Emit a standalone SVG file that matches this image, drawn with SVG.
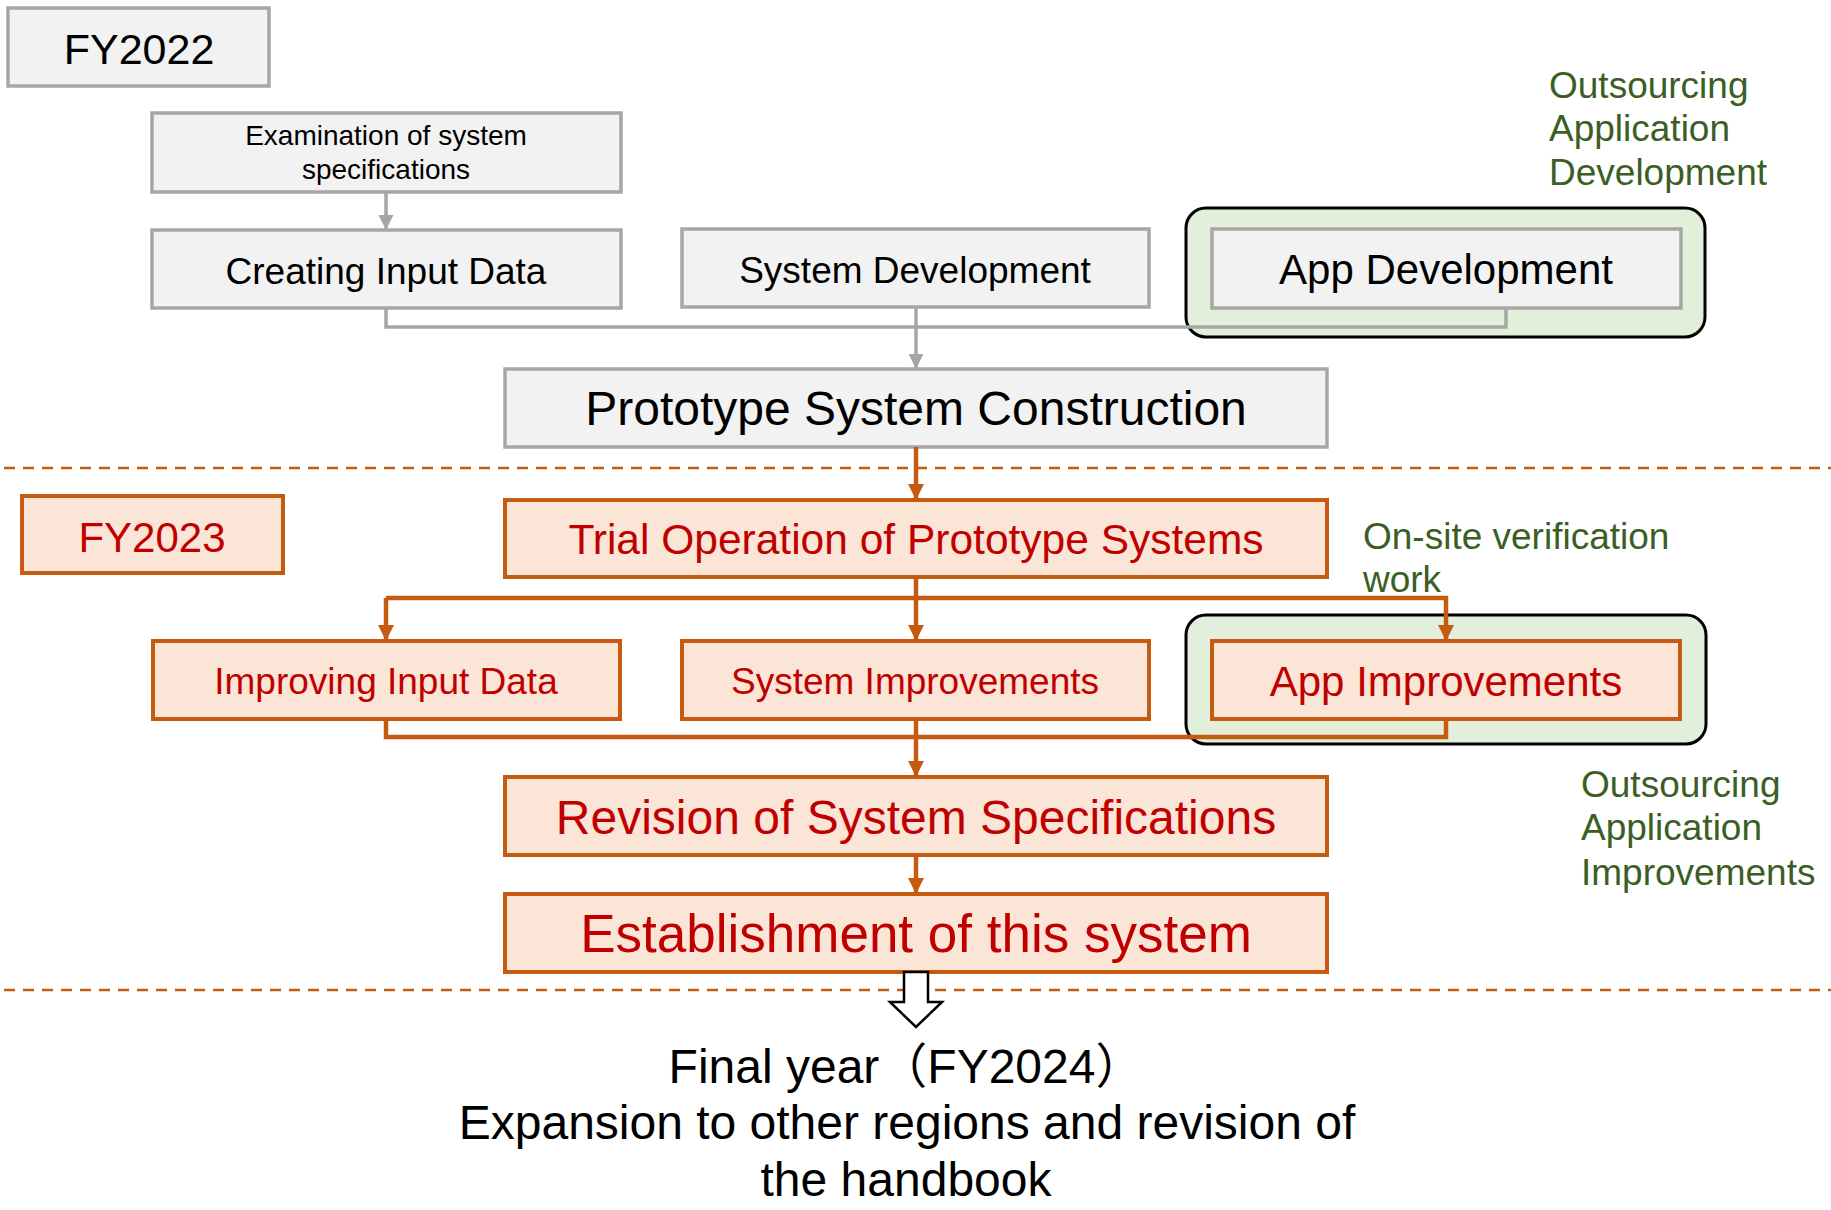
<svg xmlns="http://www.w3.org/2000/svg" width="1831" height="1210" viewBox="0 0 1831 1210">
<style>
text{font-family:"Liberation Sans",Arial,"Noto Sans CJK JP",sans-serif;text-anchor:middle}
.g{fill:#f2f2f2;stroke:#a6a6a6;stroke-width:3.5}
.o{fill:#fbe5d6;stroke:#c55a11;stroke-width:4}
.grp{fill:#e2efda;stroke:#000;stroke-width:3}
.tk{fill:#000}
.tr{fill:#c00000}
.note{fill:#3b5e25;text-anchor:start;font-size:37px}
.cg{fill:none;stroke:#a6a6a6;stroke-width:3.5}
.co{fill:none;stroke:#c55a11;stroke-width:4.5}
.dash{stroke:#c55a11;stroke-width:2.5;stroke-dasharray:11 8}
</style>
<defs>
<marker id="ag" viewBox="0 0 10 10" refX="10" refY="5" markerUnits="userSpaceOnUse" markerWidth="15" markerHeight="15" orient="auto"><path d="M0,0 L10,5 L0,10 z" fill="#a6a6a6"/></marker>
<marker id="ao" viewBox="0 0 10 10" refX="10" refY="5" markerUnits="userSpaceOnUse" markerWidth="16" markerHeight="16" orient="auto"><path d="M0,0 L10,5 L0,10 z" fill="#c55a11"/></marker>
</defs>
<rect width="1831" height="1210" fill="#fff"/>

<g id="dividers">
<line class="dash" x1="4" y1="468" x2="1831" y2="468"/>
<line class="dash" x1="4" y1="990" x2="1831" y2="990"/>
</g>

<g id="group-dev"><rect class="grp" x="1186" y="208" width="519" height="129" rx="20"/></g>
<g id="group-imp"><rect class="grp" x="1186" y="615" width="520" height="129" rx="20"/></g>

<g id="fy2022"><rect class="g" x="8" y="8" width="261" height="78"/><text class="tk" x="139" y="64" font-size="43">FY2022</text></g>
<g id="exam"><rect class="g" x="152" y="113" width="469" height="79"/><text class="tk" x="386" y="145" font-size="28">Examination of system</text><text class="tk" x="386" y="179" font-size="28">specifications</text></g>
<g id="create"><rect class="g" x="152" y="230" width="469" height="78"/><text class="tk" x="386" y="284" font-size="37">Creating Input Data</text></g>
<g id="sysdev"><rect class="g" x="682" y="229" width="467" height="78"/><text class="tk" x="915" y="283" font-size="37">System Development</text></g>
<g id="appdev"><rect class="g" x="1212" y="229" width="469" height="79"/><text class="tk" x="1446" y="284" font-size="42">App Development</text></g>
<g id="proto"><rect class="g" x="505" y="369" width="822" height="78"/><text class="tk" x="916" y="425" font-size="48">Prototype System Construction</text></g>

<g id="fy2023"><rect class="o" x="22" y="496" width="261" height="77"/><text class="tr" x="152" y="552" font-size="42">FY2023</text></g>
<g id="trial"><rect class="o" x="505" y="500" width="822" height="77"/><text class="tr" x="916" y="554" font-size="42.5">Trial Operation of Prototype Systems</text></g>
<g id="impinput"><rect class="o" x="153" y="641" width="467" height="78"/><text class="tr" x="386" y="694" font-size="37">Improving Input Data</text></g>
<g id="sysimp"><rect class="o" x="682" y="641" width="467" height="78"/><text class="tr" x="915" y="694" font-size="37">System Improvements</text></g>
<g id="appimp"><rect class="o" x="1212" y="641" width="468" height="78"/><text class="tr" x="1446" y="696" font-size="42">App Improvements</text></g>
<g id="revision"><rect class="o" x="505" y="777" width="822" height="78"/><text class="tr" x="916" y="834" font-size="48">Revision of System Specifications</text></g>
<g id="establish"><rect class="o" x="505" y="894" width="822" height="78"/><text class="tr" x="916" y="952" font-size="53">Establishment of this system</text></g>

<g id="connectors">
<line class="cg" x1="386" y1="192" x2="386" y2="230" marker-end="url(#ag)"/>
<polyline class="cg" points="386,308 386,327 1506,327 1506,308"/>
<line class="cg" x1="916" y1="307" x2="916" y2="369" marker-end="url(#ag)"/>
<line class="co" x1="916" y1="447" x2="916" y2="500" marker-end="url(#ao)"/>
<line class="co" x1="916" y1="577" x2="916" y2="641" marker-end="url(#ao)"/>
<polyline class="co" points="386,598 1446,598 1446,641" marker-end="url(#ao)"/>
<line class="co" x1="386" y1="598" x2="386" y2="641" marker-end="url(#ao)"/>
<polyline class="co" points="386,719 386,737 1446,737 1446,719"/>
<line class="co" x1="916" y1="719" x2="916" y2="777" marker-end="url(#ao)"/>
<line class="co" x1="916" y1="855" x2="916" y2="894" marker-end="url(#ao)"/>
<path d="M904,972 L928,972 L928,1002 L942,1002 L916,1027 L890,1002 L904,1002 Z" fill="#fff" stroke="#000" stroke-width="2.5" stroke-linejoin="miter"/>
</g>

<g id="notes">
<text class="note" x="1549" y="98">Outsourcing</text>
<text class="note" x="1549" y="141">Application</text>
<text class="note" x="1549" y="185">Development</text>
<text class="note" x="1363" y="549">On-site verification</text>
<text class="note" x="1363" y="592">work</text>
<text class="note" x="1581" y="797">Outsourcing</text>
<text class="note" x="1581" y="840">Application</text>
<text class="note" x="1581" y="885">Improvements</text>
</g>

<g id="final">
<text class="tk" x="906" y="1083" font-size="48">Final year（FY2024）</text>
<text class="tk" x="907" y="1139" font-size="48">Expansion to other regions and revision of</text>
<text class="tk" x="906" y="1196" font-size="48">the handbook</text>
</g>
</svg>
